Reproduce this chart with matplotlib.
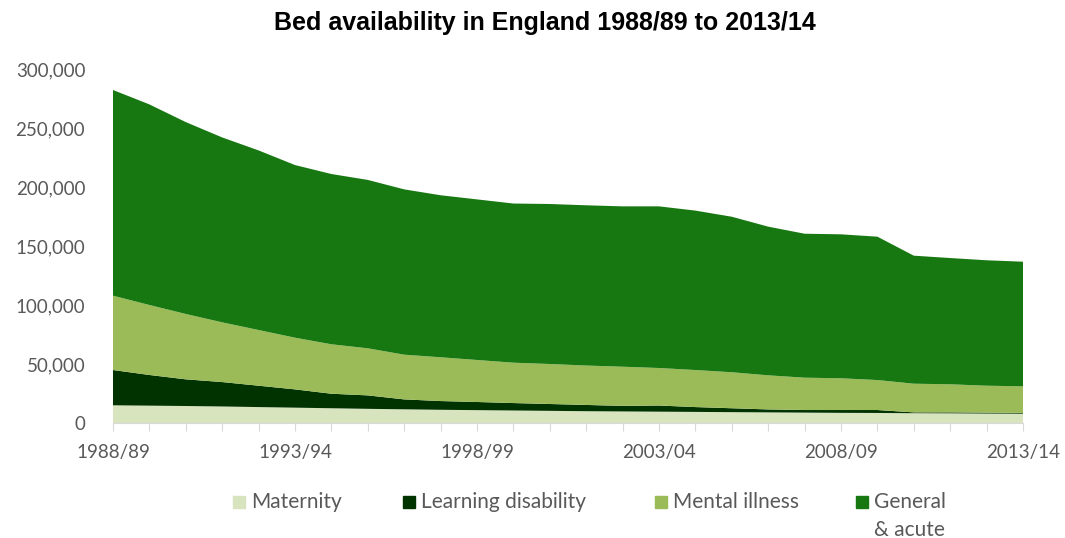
import matplotlib.pyplot as plt
from matplotlib.patches import Rectangle
import numpy as np

# Data (beds)
years = ["1988/89", "1989/90", "1990/91", "1991/92", "1992/93", "1993/94", "1994/95",
         "1995/96", "1996/97", "1997/98", "1998/99", "1999/00", "2000/01", "2001/02",
         "2002/03", "2003/04", "2004/05", "2005/06", "2006/07", "2007/08", "2008/09",
         "2009/10", "2010/11", "2011/12", "2012/13", "2013/14"]
maternity = [15000, 14700, 14400, 14000, 13500, 13000, 12500, 12000, 11600, 11200, 10900,
             10600, 10300, 10000, 9800, 9600, 9400, 9200, 9000, 8800, 8600, 8500, 8300,
             8200, 8000, 7900]
learning_disability = [29900, 26000, 22600, 20700, 18100, 15500, 12300, 11400, 8400, 7400,
                       6900, 6300, 5800, 5300, 4700, 5200, 4100, 3300, 2500, 2200, 2400,
                       2500, 700, 800, 800, 600]
mental_illness = [63000, 59300, 55400, 50600, 47200, 43800, 41900, 39900, 37900, 37100,
                  35600, 34200, 33900, 33400, 33200, 31800, 31400, 30500, 28900, 27400,
                  26900, 25400, 24300, 23800, 22800, 22600]
general_acute = [174300, 170000, 162600, 156700, 152200, 146300, 144300, 142700, 140100,
                 137300, 136100, 134900, 135600, 135800, 135900, 137000, 135100, 131800,
                 126000, 122000, 122000, 121500, 108500, 107000, 106300, 105600]

series_labels = ["Maternity", "Learning disability", "Mental illness", "General\n& acute"]
colors = ["#d7e4bd", "#003300", "#9bbb59", "#177811"]
label_years = years[::5]

tick_col = "#595959"
plt.rcParams['font.family'] = ['Lato', 'DejaVu Sans']

fig = plt.figure(figsize=(10.65, 5.38), dpi=100)
ax = fig.add_axes([113 / 1065, 1 - 423 / 538, 910 / 1065, 354 / 538])

x = np.arange(len(years))
ax.stackplot(x, maternity, learning_disability, mental_illness, general_acute,
             colors=colors, linewidth=0)

ax.set_xlim(0, len(years) - 1)
ax.set_ylim(0, 300000)
ax.set_yticks(np.arange(0, 300001, 50000))
ax.set_yticklabels([f"{v:,}" for v in range(0, 300001, 50000)], fontsize=13.5, color=tick_col)
ax.set_xticks(x)
ax.set_xticklabels([y if y in label_years else "" for y in years], fontsize=13.5, color=tick_col)
ax.tick_params(axis='x', length=6, color="#d9d9d9", pad=9)
ax.tick_params(axis='y', length=0, pad=20)

for s in ["top", "right", "left"]:
    ax.spines[s].set_visible(False)
ax.spines["bottom"].set_color("#d9d9d9")

fig.text(545 / 1065, 1 - 23 / 538, "Bed availability in England 1988/89 to 2013/14",
         ha="center", va="center", fontsize=18, fontweight="bold",
         family="Liberation Sans", color="black")

# Legend drawn by hand to match the wrapped last entry
leg_x = [233, 403, 655, 856]
for lx, lab, col in zip(leg_x, series_labels, colors):
    fig.patches.append(Rectangle((lx / 1065, 1 - 508 / 538), 12 / 1065, 12 / 538,
                                 transform=fig.transFigure, color=col))
    fig.text((lx + 18) / 1065, 1 - 492 / 538, lab, ha="left", va="top",
             fontsize=15, color=tick_col, linespacing=1.5)

fig.savefig("out.png", dpi=100)
